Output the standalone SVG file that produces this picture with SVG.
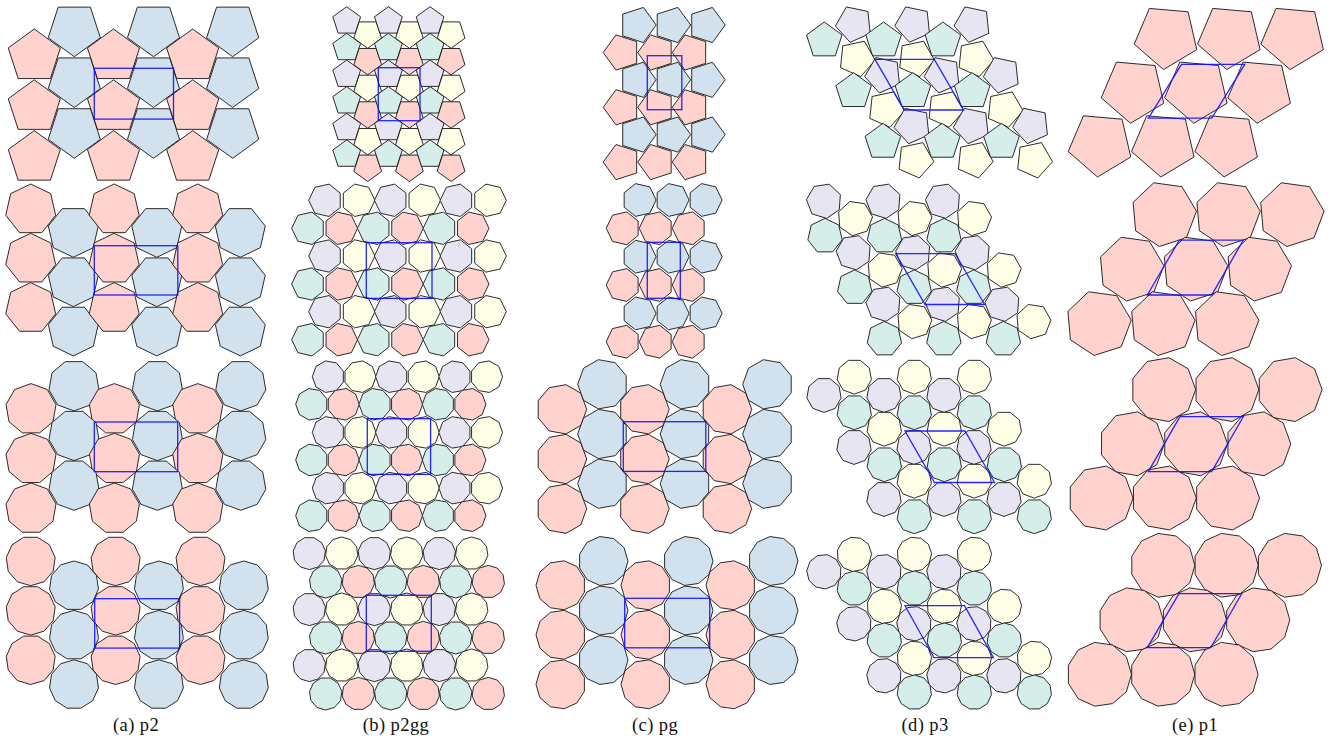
<svg xmlns="http://www.w3.org/2000/svg" xmlns:xlink="http://www.w3.org/1999/xlink" width="1335" height="756" viewBox="0 0 1335 756">
<style>
.sh{stroke:#141414;stroke-width:0.9;stroke-linejoin:round;vector-effect:non-scaling-stroke}
.pk{fill:#ffd2ce}.bl{fill:#d1e1ee}.lv{fill:#e7e5f1}.yl{fill:#fefde6}.tl{fill:#d5eeea}
.uc{fill:none;stroke:#1010ff;stroke-width:1.3;stroke-opacity:0.9}
.lb{font-family:"Liberation Serif","DejaVu Serif",serif;font-size:18.5px;letter-spacing:0.4px;fill:#111;text-anchor:middle}
</style>
<defs>
<polygon id="p5" class="sh" points="1,0 0.309,0.951 -0.809,0.588 -0.809,-0.588 0.309,-0.951"/>
<polygon id="p7" class="sh" points="1,0 0.6235,0.7818 -0.2225,0.9749 -0.901,0.4339 -0.901,-0.4339 -0.2225,-0.9749 0.6235,-0.7818"/>
<polygon id="p9" class="sh" points="1,0 0.766,0.6428 0.1736,0.9848 -0.5,0.866 -0.9397,0.342 -0.9397,-0.342 -0.5,-0.866 0.1736,-0.9848 0.766,-0.6428"/>
<polygon id="p11" class="sh" points="1,0 0.8413,0.5406 0.4154,0.9096 -0.1423,0.9898 -0.6549,0.7557 -0.9595,0.2817 -0.9595,-0.2817 -0.6549,-0.7557 -0.1423,-0.9898 0.4154,-0.9096 0.8413,-0.5406"/>
</defs>
<rect width="1335" height="756" fill="#fff"/>

<!-- column a: p2 -->
<g id="a1">
 <g id="a1r"><g id="a1c">
  <use href="#p5" class="pk" transform="translate(34.3,56.4) rotate(-90) scale(27.4)"/>
  <use href="#p5" class="bl" transform="translate(74.3,29.3) rotate(90) scale(27.4)"/>
 </g><use href="#a1c" x="79.2"/><use href="#a1c" x="158.4"/></g>
 <use href="#a1r" y="50.8"/><use href="#a1r" y="101.6"/>
 <rect class="uc" x="94.3" y="68.3" width="79.2" height="50.8"/>
</g>
<g id="a2">
 <g id="a2r"><g id="a2c">
  <use href="#p7" class="pk" transform="translate(30.7,209.6) rotate(-90) scale(25.6)"/>
  <use href="#p7" class="bl" transform="translate(73.3,231.7) rotate(90) scale(25.6)"/>
 </g><use href="#a2c" x="83.5"/><use href="#a2c" x="167"/></g>
 <use href="#a2r" y="49.3"/><use href="#a2r" y="98.6"/>
 <rect class="uc" x="94.3" y="245.7" width="83.5" height="49.3"/>
</g>
<g id="a3">
 <g id="a3r"><g id="a3c">
  <use href="#p9" class="pk" transform="translate(31,409) rotate(-90) scale(25.4)"/>
  <use href="#p9" class="bl" transform="translate(74,385.5) rotate(90) scale(25.4)"/>
 </g><use href="#a3c" x="83.4"/><use href="#a3c" x="166.8"/></g>
 <use href="#a3r" y="49.7"/><use href="#a3r" y="99.4"/>
 <rect class="uc" x="94.3" y="422" width="83.4" height="49.7"/>
</g>
<g id="a4">
 <g id="a4r"><g id="a4c">
  <use href="#p11" class="pk" transform="translate(30.7,561) rotate(90) scale(24.7)"/>
  <use href="#p11" class="bl" transform="translate(74,585.7) rotate(-90) scale(24.7)"/>
 </g><use href="#a4c" x="84.9"/><use href="#a4c" x="169.8"/></g>
 <use href="#a4r" y="49.4"/><use href="#a4r" y="98.8"/>
 <rect class="uc" x="94.7" y="598.7" width="84.9" height="49.4"/>
</g>

<!-- column b: p2gg -->
<g id="b1">
 <g id="b1r"><g id="b1c">
  <use href="#p5" class="lv" transform="translate(346.7,21.3) rotate(-90) scale(14.6)"/>
  <use href="#p5" class="tl" transform="translate(346.7,47.9) rotate(-90) scale(14.6)"/>
  <use href="#p5" class="yl" transform="translate(367.7,33.7) rotate(90) scale(14.6)"/>
  <use href="#p5" class="pk" transform="translate(367.7,60.3) rotate(90) scale(14.6)"/>
 </g><use href="#b1c" x="41.7"/><use href="#b1c" x="83.4"/></g>
 <use href="#b1r" y="53.3"/><use href="#b1r" y="106.6"/>
 <rect class="uc" x="378.3" y="67.7" width="41.7" height="53"/>
</g>
<g id="b2">
 <g id="b2r"><g id="b2c">
  <use href="#p7" class="lv" transform="translate(325.3,200.3) rotate(180) scale(16.6)"/>
  <use href="#p7" class="yl" transform="translate(358.3,200.3) scale(16.6)"/>
  <use href="#p7" class="tl" transform="translate(308.3,228.3) rotate(180) scale(16.6)"/>
  <use href="#p7" class="pk" transform="translate(341,228.3) scale(16.6)"/>
 </g><use href="#b2c" x="65.7"/><use href="#b2c" x="131.4"/></g>
 <use href="#b2r" y="55.7"/><use href="#b2r" y="111.4"/>
 <rect class="uc" x="366.3" y="242.7" width="65.7" height="55.7"/>
</g>
<g id="b3">
 <g id="b3r"><g id="b3c">
  <use href="#p9" class="lv" transform="translate(328.3,376.7) rotate(180) scale(16)"/>
  <use href="#p9" class="yl" transform="translate(360,376.7) scale(16)"/>
  <use href="#p9" class="tl" transform="translate(311.7,404.3) rotate(180) scale(16)"/>
  <use href="#p9" class="pk" transform="translate(343.3,404.3) scale(16)"/>
 </g><use href="#b3c" x="63.3"/><use href="#b3c" x="126.6"/></g>
 <use href="#b3r" y="55.7"/><use href="#b3r" y="111.4"/>
 <rect class="uc" x="367.3" y="418.7" width="63.3" height="55.7"/>
</g>
<g id="b4">
 <g id="b4r"><g id="b4c">
  <use href="#p11" class="lv" transform="translate(309.3,553.3) rotate(90) scale(16.3)"/>
  <use href="#p11" class="yl" transform="translate(341.7,553.3) rotate(-90) scale(16.3)"/>
  <use href="#p11" class="tl" transform="translate(325.7,581.7) rotate(90) scale(16.3)"/>
  <use href="#p11" class="pk" transform="translate(358.3,581.7) rotate(-90) scale(16.3)"/>
 </g><use href="#b4c" x="65"/><use href="#b4c" x="130"/></g>
 <use href="#b4r" y="56"/><use href="#b4r" y="112"/>
 <rect class="uc" x="366.3" y="595.3" width="65" height="56"/>
</g>

<!-- column c: pg -->
<g id="c1">
 <g id="c1r"><g id="c1c">
  <use href="#p5" class="bl" transform="translate(637.7,25) scale(18.5)"/>
  <use href="#p5" class="pk" transform="translate(621.7,52.5) rotate(180) scale(18.5)"/>
 </g><use href="#c1c" x="34.5"/><use href="#c1c" x="69"/></g>
 <use href="#c1r" y="54.8"/><use href="#c1r" y="109.6"/>
 <rect class="uc" x="647.3" y="55.7" width="34.5" height="54"/>
</g>
<g id="c2">
 <g id="c2r"><g id="c2c">
  <use href="#p7" class="bl" transform="translate(639.3,200) scale(16.8)"/>
  <use href="#p7" class="pk" transform="translate(623,228.3) rotate(180) scale(16.8)"/>
 </g><use href="#c2c" x="33"/><use href="#c2c" x="66"/></g>
 <use href="#c2r" y="56.7"/><use href="#c2r" y="113.4"/>
 <rect class="uc" x="647.3" y="242.3" width="33" height="56"/>
</g>
<g id="c3">
 <g id="c3r"><g id="c3c">
  <use href="#p9" class="pk" transform="translate(561.7,409.3) scale(25)"/>
  <use href="#p9" class="bl" transform="translate(602.7,384.3) rotate(180) scale(25)"/>
 </g><use href="#c3c" x="82.5"/><use href="#c3c" x="165"/></g>
 <use href="#c3r" y="49.7"/><use href="#c3r" y="99.4"/>
 <rect class="uc" x="623.3" y="421.7" width="82.5" height="49.7"/>
</g>
<g id="c4">
 <g id="c4r"><g id="c4c">
  <use href="#p11" class="bl" transform="translate(603.3,561) scale(24.7)"/>
  <use href="#p11" class="pk" transform="translate(560.7,585.3) rotate(180) scale(24.7)"/>
 </g><use href="#c4c" x="85"/><use href="#c4c" x="170"/></g>
 <use href="#c4r" y="49.5"/><use href="#c4r" y="99"/>
 <rect class="uc" x="624.7" y="598.3" width="85" height="49.5"/>
</g>

<!-- column d: p3 -->
<g id="d1">
 <g id="d1r"><g id="d1c">
  <use href="#p5" class="lv" transform="translate(854,24) rotate(30) scale(18.7)"/>
  <use href="#p5" class="tl" transform="translate(824.3,40.7) rotate(-90) scale(18.7)"/>
  <use href="#p5" class="yl" transform="translate(856.7,58.3) rotate(150) scale(18.7)"/>
 </g><use href="#d1c" x="59.3"/><use href="#d1c" x="118.6"/></g>
 <use href="#d1r" transform="translate(29.3,50.7)"/><use href="#d1r" transform="translate(58.6,101.4)"/>
 <polygon class="uc" points="875,59.3 934.3,59.3 963.6,110 904.3,110"/>
</g>
<g id="d2">
 <g id="d2r"><g id="d2c">
  <use href="#p7" class="lv" transform="translate(824,201) rotate(30) scale(17.6)"/>
  <use href="#p7" class="tl" transform="translate(825,236) rotate(-90) scale(17.6)"/>
  <use href="#p7" class="yl" transform="translate(855,218.3) rotate(150) scale(17.6)"/>
 </g><use href="#d2c" x="59.5"/><use href="#d2c" x="119"/></g>
 <use href="#d2r" transform="translate(29.7,51.5)"/><use href="#d2r" transform="translate(59.4,103)"/>
 <polygon class="uc" points="895.7,253.7 955.2,253.7 984.6,304.5 925.1,304.5"/>
</g>
<g id="d3">
 <g id="d3r"><g id="d3c">
  <use href="#p9" class="yl" transform="translate(854.3,376.7) rotate(90) scale(17.4)"/>
  <use href="#p9" class="lv" transform="translate(824,395) rotate(90) scale(17.4)"/>
  <use href="#p9" class="tl" transform="translate(854.3,412.3) rotate(90) scale(17.4)"/>
 </g><use href="#d3c" x="60"/><use href="#d3c" x="120"/></g>
 <use href="#d3r" transform="translate(30,52)"/><use href="#d3r" transform="translate(60,104)"/>
 <polygon class="uc" points="905,431 965,431 994.5,482.5 934.5,482.5"/>
</g>
<g id="d4">
 <g id="d4r"><g id="d4c">
  <use href="#p11" class="yl" transform="translate(854.3,554.3) rotate(30) scale(17.3)"/>
  <use href="#p11" class="lv" transform="translate(824,571.7) rotate(150) scale(17.3)"/>
  <use href="#p11" class="tl" transform="translate(854.3,588.3) rotate(-90) scale(17.3)"/>
 </g><use href="#d4c" x="60"/><use href="#d4c" x="120"/></g>
 <use href="#d4r" transform="translate(30,52)"/><use href="#d4r" transform="translate(60,104)"/>
 <polygon class="uc" points="905,605.7 964.5,605.7 993.5,657.7 934,657.7"/>
</g>

<!-- column e: p1 -->
<g id="e1">
 <g id="e1r"><use id="e1c" href="#p5" class="pk" transform="translate(1166.4,36.7) rotate(23) scale(33)"/>
  <use href="#e1c" x="63.3"/><use href="#e1c" x="126.6"/></g>
 <use href="#e1r" transform="translate(-33,53.7)"/><use href="#e1r" transform="translate(-66,107.4)"/>
 <polygon class="uc" points="1181.5,64.4 1244.8,64.4 1211.8,118.1 1148.5,118.1"/>
</g>
<g id="e2">
 <g id="e2r"><use id="e2c" href="#p7" class="pk" transform="translate(1163.8,214) rotate(-5) scale(32.8)"/>
  <use href="#e2c" x="63.8"/><use href="#e2c" x="127.6"/></g>
 <use href="#e2r" transform="translate(-32.6,54.5)"/><use href="#e2r" transform="translate(-65.2,109)"/>
 <polygon class="uc" points="1179.3,240.1 1243.3,240.1 1211.7,295 1147.3,295"/>
</g>
<g id="e3">
 <g id="e3r"><use id="e3c" href="#p9" class="pk" transform="translate(1163.3,389.6) scale(32.4)"/>
  <use href="#e3c" x="63.2"/><use href="#e3c" x="126.4"/></g>
 <use href="#e3r" transform="translate(-31.3,54.2)"/><use href="#e3r" transform="translate(-62.6,108.4)"/>
 <polygon class="uc" points="1180,416.7 1243.3,416.7 1211.7,471.6 1148.3,471.6"/>
</g>
<g id="e4">
 <g id="e4r"><use id="e4c" href="#p11" class="pk" transform="translate(1162.7,565.3) scale(32.2)"/>
  <use href="#e4c" x="63.3"/><use href="#e4c" x="126.6"/></g>
 <use href="#e4r" transform="translate(-31.7,54.5)"/><use href="#e4r" transform="translate(-63.4,109)"/>
 <polygon class="uc" points="1179,593.7 1241.7,593.7 1210.7,647.7 1147.3,647.7"/>
</g>

<g id="labels">
 <text class="lb" x="136" y="731">(a) p2</text>
 <text class="lb" x="396" y="731">(b) p2gg</text>
 <text class="lb" x="655" y="731">(c) pg</text>
 <text class="lb" x="925" y="731">(d) p3</text>
 <text class="lb" x="1195" y="731">(e) p1</text>
</g>
</svg>
